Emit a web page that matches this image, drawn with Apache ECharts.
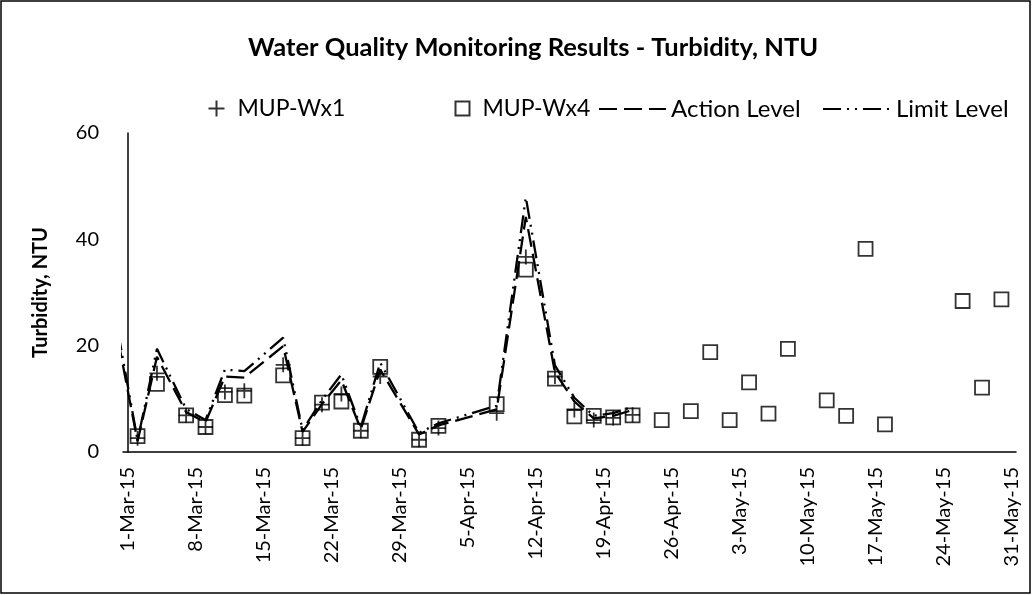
<!DOCTYPE html>
<html>
<head>
<meta charset="utf-8">
<script src="https://cdn.jsdelivr.net/npm/echarts@6/dist/echarts.min.js"></script>
<style>
html, body { margin: 0; padding: 0; background: #fff; }
#chart { width: 1032px; height: 595px; }
</style>
</head>
<body>
<div id="chart"></div>
<script>
// sampling dates and readings (NTU)
var wx1Dates = ['2015-03-02','2015-03-04','2015-03-07','2015-03-09','2015-03-11','2015-03-13','2015-03-17',
    '2015-03-19','2015-03-21','2015-03-23','2015-03-25','2015-03-27','2015-03-31','2015-04-02','2015-04-08',
    '2015-04-11','2015-04-14','2015-04-16','2015-04-18','2015-04-20','2015-04-22'];
var wx1Values = [2.6, 14.8, 6.9, 4.7, 11.3, 11.5, 16.4, 2.6, 8.9, 10.9, 4.0, 14.2, 2.3, 4.5, 7.3,
    36.7, 14.2, 7.9, 6.0, 6.4, 7.0];

var wx4Dates = ['2015-03-02','2015-03-04','2015-03-07','2015-03-09','2015-03-11','2015-03-13','2015-03-17',
    '2015-03-19','2015-03-21','2015-03-23','2015-03-25','2015-03-27','2015-03-31','2015-04-02','2015-04-08',
    '2015-04-11','2015-04-14','2015-04-16','2015-04-18','2015-04-20','2015-04-22','2015-04-25','2015-04-28',
    '2015-04-30','2015-05-02','2015-05-04','2015-05-06','2015-05-08','2015-05-12','2015-05-14','2015-05-16',
    '2015-05-18','2015-05-26','2015-05-28','2015-05-30'];
var wx4Values = [3.0, 12.8, 6.9, 4.7, 10.7, 10.6, 14.4, 2.6, 9.3, 9.5, 4.0, 16.0, 2.3, 4.9, 9.0,
    34.3, 13.8, 6.7, 6.8, 6.5, 6.9, 6.0, 7.7, 18.8, 6.0, 13.1, 7.2, 19.4, 9.7, 6.8, 38.2,
    5.2, 28.4, 12.1, 28.7];

var levelDates = ['2015-02-28','2015-03-02','2015-03-04','2015-03-07','2015-03-09','2015-03-11','2015-03-13',
    '2015-03-17','2015-03-19','2015-03-21','2015-03-23','2015-03-25','2015-03-27','2015-03-31','2015-04-02',
    '2015-04-08','2015-04-11','2015-04-14','2015-04-16','2015-04-18','2015-04-20','2015-04-22'];
var actionValues = [21.0, 2.0, 17.9, 7.5, 5.6, 14.2, 14.0, 19.9, 3.8, 9.0, 13.5, 4.3, 15.5, 3.3, 5.0,
    8.0, 44.2, 15.0, 9.5, 6.3, 6.8, 7.9];
var limitValues = [22.5, 2.2, 19.4, 8.1, 6.0, 15.5, 15.2, 21.5, 4.1, 9.8, 14.6, 4.7, 16.8, 3.6, 5.4,
    8.7, 47.9, 16.3, 10.2, 6.8, 7.3, 8.5];

var xTickDates = ['2015-03-01','2015-03-08','2015-03-15','2015-03-22','2015-03-29','2015-04-05','2015-04-12',
    '2015-04-19','2015-04-26','2015-05-03','2015-05-10','2015-05-17','2015-05-24','2015-05-31'];
var yTicks = [0, 20, 40, 60];

var MONTHS = ['Jan','Feb','Mar','Apr','May','Jun','Jul','Aug','Sep','Oct','Nov','Dec'];
var DAY = 86400000;
var START = Date.UTC(2015, 2, 1);

function dayIndex(s) {
    var p = s.split('-');
    return (Date.UTC(+p[0], +p[1] - 1, +p[2]) - START) / DAY;
}
function dayLabel(v) {
    var d = new Date(START + Math.round(v) * DAY);
    return d.getUTCDate() + '-' + MONTHS[d.getUTCMonth()] + '-15';
}
function pairs(dates, values) {
    return dates.map(function (d, i) { return [dayIndex(d), values[i]]; });
}

var FONT = 'Lato';
var plusPath = 'path://M0,-10 L0,10 M-10,0 L10,0';
var legendText = { fontFamily: FONT, fontSize: 24, color: '#000' };

var chart = echarts.init(document.getElementById('chart'));

var option = {
    backgroundColor: '#fff',
    animation: false,
    textStyle: { fontFamily: FONT, color: '#000' },
    title: {
        text: 'Water Quality Monitoring Results - Turbidity, NTU',
        left: 243,
        top: 30,
        textStyle: { fontFamily: FONT, fontSize: 25.5, fontWeight: 'bold', color: '#000' }
    },
    legend: [
        { data: ['MUP-Wx1'], left: 201, top: 92, itemWidth: 16, itemHeight: 16,
          textStyle: Object.assign({}, legendText, { fontSize: 23, padding: [0, 0, 0, 8] }) },
        { data: ['MUP-Wx4'], left: 448, top: 92, itemWidth: 14, itemHeight: 14,
          textStyle: Object.assign({}, legendText, { fontSize: 23, padding: [0, 0, 0, 8] }) },
        { data: ['Action Level'], left: 593, top: 92, itemWidth: 67, itemHeight: 14,
          itemStyle: { opacity: 0 }, textStyle: legendText },
        { data: ['Limit Level'], left: 817, top: 92, itemWidth: 68, itemHeight: 14,
          itemStyle: { opacity: 0 }, textStyle: legendText }
    ],
    grid: { left: 123, right: 16, top: 133, bottom: 143 },
    xAxis: {
        type: 'value',
        min: -0.5,
        max: 91.5,
        splitLine: { show: false },
        axisTick: { show: false },
        axisLine: { lineStyle: { color: '#000', width: 1.5 } },
        axisLabel: {
            customValues: xTickDates.map(dayIndex),
            formatter: function (v) { return dayLabel(v); },
            rotate: 90,
            margin: 15,
            fontFamily: FONT,
            fontSize: 20,
            color: '#000'
        }
    },
    yAxis: {
        type: 'value',
        min: yTicks[0],
        max: yTicks[yTicks.length - 1],
        interval: 20,
        name: 'Turbidity, NTU',
        nameLocation: 'middle',
        nameGap: 72,
        nameTextStyle: { fontFamily: FONT, fontSize: 20, fontWeight: 'bold', color: '#000' },
        splitLine: { show: false },
        axisTick: { show: false },
        axisLine: { show: true, lineStyle: { color: '#000', width: 1.5 } },
        axisLabel: { margin: 24, fontFamily: FONT, fontSize: 20, color: '#000' }
    },
    series: [
        {
            name: 'Action Level',
            type: 'line',
            data: pairs(levelDates, actionValues),
            symbol: 'none',
            clip: true,
            lineStyle: { color: '#000', width: 2.3, type: [18, 7] },
            itemStyle: { color: '#000' },
            z: 2
        },
        {
            name: 'Limit Level',
            type: 'line',
            data: pairs(levelDates, limitValues),
            symbol: 'none',
            clip: true,
            lineStyle: { color: '#000', width: 2.3, type: [18, 6, 2, 6, 2, 6] },
            itemStyle: { color: '#000' },
            z: 2
        },
        {
            name: 'MUP-Wx1',
            type: 'scatter',
            data: pairs(wx1Dates, wx1Values),
            symbol: plusPath,
            symbolSize: 15,
            itemStyle: { color: 'none', borderColor: '#000', borderWidth: 1.8 },
            z: 3
        },
        {
            name: 'MUP-Wx4',
            type: 'scatter',
            data: pairs(wx4Dates, wx4Values),
            symbol: 'rect',
            symbolSize: 14,
            itemStyle: { color: 'none', borderColor: '#000', borderWidth: 1.8 },
            z: 4
        }
    ],
    graphic: [
        {
            type: 'rect',
            shape: { x: 1, y: 1, width: 1029, height: 592 },
            style: { fill: 'none', stroke: '#000', lineWidth: 1.5 },
            silent: true
        }
    ]
};

chart.setOption(option);
</script>
</body>
</html>
